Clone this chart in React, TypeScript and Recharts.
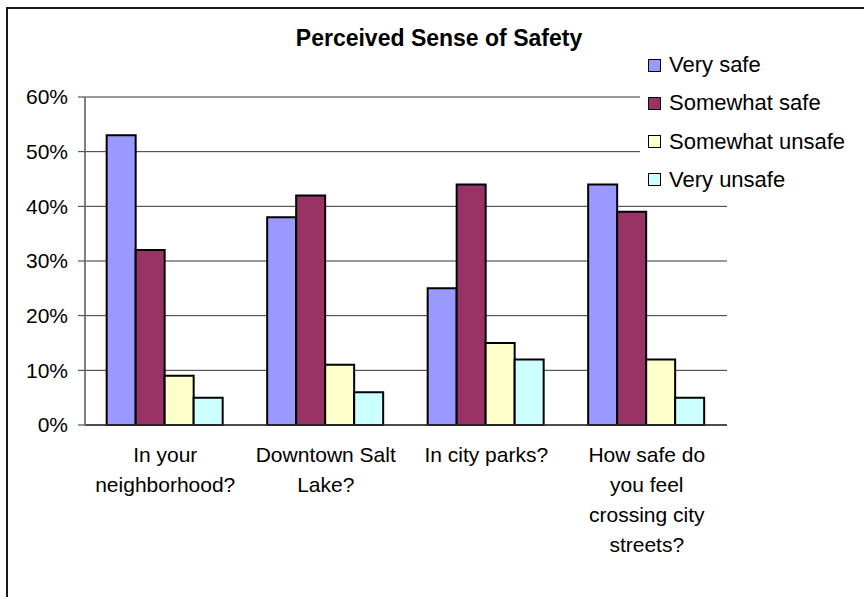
import { Bar, BarChart, CartesianGrid, Legend, XAxis, YAxis } from "recharts";

const categories = [
  "In your\nneighborhood?",
  "Downtown Salt\nLake?",
  "In city parks?",
  "How safe do\nyou feel\ncrossing city\nstreets?",
];

const verySafe = [53, 38, 25, 44];
const somewhatSafe = [32, 42, 44, 39];
const somewhatUnsafe = [9, 11, 15, 12];
const veryUnsafe = [5, 6, 12, 5];

const yTicks = [0, 10, 20, 30, 40, 50, 60];
const boundaryTicks = [0, 1, 2, 3, 4];

const series = [
  { key: "verySafe", label: "Very safe", fill: "#9999FF" },
  { key: "somewhatSafe", label: "Somewhat safe", fill: "#993366" },
  { key: "somewhatUnsafe", label: "Somewhat unsafe", fill: "#FFFFCC" },
  { key: "veryUnsafe", label: "Very unsafe", fill: "#CCFFFF" },
];

const data = categories.map((name, i) => ({
  name,
  verySafe: verySafe[i],
  somewhatSafe: somewhatSafe[i],
  somewhatUnsafe: somewhatUnsafe[i],
  veryUnsafe: veryUnsafe[i],
}));

const FONT = '"Liberation Sans", Arial, sans-serif';

function CategoryTick({ x, y, payload }: any) {
  const lines = String(payload.value).split("\n");
  return (
    <text x={x} y={y} textAnchor="middle" fontFamily={FONT} fontSize={21} fill="#000">
      {lines.map((line, i) => (
        <tspan key={i} x={x} y={y + 30 + i * 30}>
          {line}
        </tspan>
      ))}
    </text>
  );
}

function LegendBox() {
  return (
    <div style={{ fontFamily: FONT, fontSize: 22, color: "#000" }}>
      {series.map((s, i) => (
        <div
          key={s.key}
          style={{
            position: "absolute",
            left: 8,
            top: 20 + i * 38.3 - 13,
            height: 26,
            display: "flex",
            alignItems: "center",
            whiteSpace: "nowrap",
          }}
        >
          <span
            style={{
              display: "inline-block",
              width: 11,
              height: 11,
              background: s.fill,
              border: "1.5px solid #000",
              marginRight: 8,
            }}
          />
          <span>{s.label}</span>
        </div>
      ))}
    </div>
  );
}

export default function App() {
  return (
    <div
      style={{
        position: "fixed",
        left: 0,
        top: 0,
        width: 864,
        height: 597,
        overflow: "hidden",
        background: "#fff",
      }}
    >
      <div
        style={{
          position: "absolute",
          left: 6,
          top: 7,
          width: 1000,
          height: 1000,
          border: "2px solid #1a1a1a",
        }}
      />
      <div style={{ position: "absolute", left: 0, top: 0 }}>
        <BarChart
          width={864}
          height={597}
          data={data}
          margin={{ top: 97, right: 137, left: 0, bottom: 25 }}
          barCategoryGap="13.5%"
          barGap={0}
        >
          <CartesianGrid vertical={false} stroke="#333" xAxisId="a" />
          <XAxis
            xAxisId="a"
            type="number"
            domain={[0, 4]}
            ticks={boundaryTicks}
            tick={false}
            tickSize={7}
            height={7}
            axisLine={{ stroke: "#333", strokeWidth: 1.5 }}
            tickLine={{ stroke: "#808080", strokeWidth: 1.5 }}
          />
          <XAxis
            xAxisId="b"
            dataKey="name"
            height={140}
            axisLine={false}
            tickLine={false}
            tickSize={0}
            tickMargin={0}
            interval={0}
            tick={<CategoryTick />}
          />
          <YAxis
            width={85}
            domain={[0, 60]}
            ticks={yTicks}
            tickFormatter={(v) => `${v}%`}
            tickSize={7}
            tickMargin={10}
            axisLine={{ stroke: "#808080", strokeWidth: 2 }}
            tickLine={{ stroke: "#333" }}
            tick={{ fontFamily: FONT, fontSize: 21, fill: "#000" }}
          />
          <Legend
            layout="vertical"
            align="center"
            verticalAlign="middle"
            content={() => <LegendBox />}
            wrapperStyle={{
              left: 640,
              top: 45,
              width: 240,
              height: 153,
              background: "#fff",
            }}
          />
          {series.map((s) => (
            <Bar
              key={s.key}
              xAxisId="b"
              dataKey={s.key}
              name={s.label}
              fill={s.fill}
              stroke="#000"
              strokeWidth={2}
              isAnimationActive={false}
            />
          ))}
        </BarChart>
      </div>
      <svg
        width={864}
        height={597}
        style={{ position: "absolute", left: 0, top: 0, pointerEvents: "none" }}
      >
        <text
          x={439}
          y={46}
          textAnchor="middle"
          fontFamily={FONT}
          fontSize={23}
          fontWeight="bold"
          fill="#000"
        >
          Perceived Sense of Safety
        </text>
      </svg>
    </div>
  );
}
